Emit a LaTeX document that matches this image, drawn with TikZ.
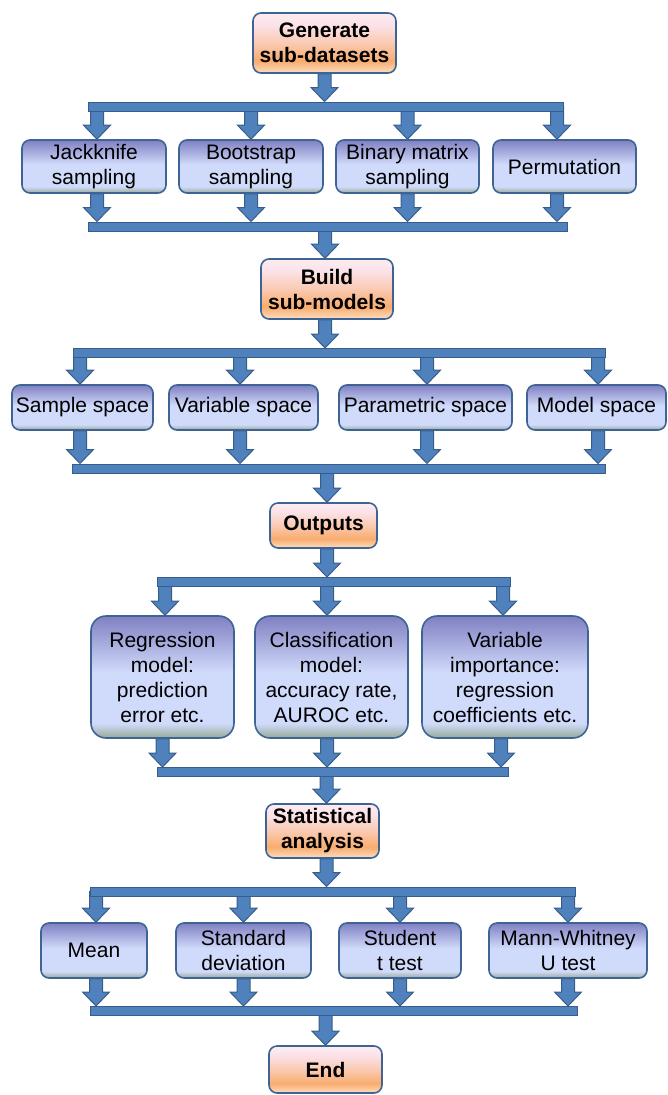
\documentclass[tikz,border=0pt]{standalone}
\usepackage{fontspec}
\setmainfont{Liberation Sans}
\usetikzlibrary{calc}
\pgfdeclarelayer{bg}
\pgfsetlayers{bg,main}
\definecolor{bbot}{RGB}{150,170,152}
\definecolor{bmid}{RGB}{208,218,250}
\definecolor{btop}{RGB}{128,128,194}
\definecolor{obot}{RGB}{252,222,195}
\definecolor{omid}{RGB}{248,172,110}
\definecolor{olt}{RGB}{250,202,178}
\definecolor{opk}{RGB}{251,226,232}
\definecolor{otop}{RGB}{252,236,240}
\definecolor{boxline}{RGB}{62,100,150}
\definecolor{arrfill}{RGB}{79,129,189}
\definecolor{arrline}{RGB}{56,93,138}
\pgfdeclareverticalshading{blueshade}{100bp}{color(0bp)=(bbot); color(25bp)=(bbot); color(31bp)=(bmid); color(52bp)=(bmid); color(75bp)=(btop); color(100bp)=(btop)}
\pgfdeclareverticalshading{orangeshade}{100bp}{color(0bp)=(obot); color(25bp)=(obot); color(35bp)=(omid); color(50bp)=(olt); color(65bp)=(opk); color(75bp)=(otop); color(100bp)=(otop)}
\newcommand\barrow[2]{%
  \path[arr] let \p1=(#1), \p2=(#2) in
    (\x1-6.5pt,\y1) -- (\x1-6.5pt,\y2+14pt) -- (\x1-13.5pt,\y2+14pt) -- (\x1,\y2)
    -- (\x1+13.5pt,\y2+14pt) -- (\x1+6.5pt,\y2+14pt) -- (\x1+6.5pt,\y1) -- cycle;}
\begin{document}
\begin{tikzpicture}[x=1pt,y=-1pt,
  box/.style={draw=boxline, line width=1.6pt, rounded corners=8pt, shading=blueshade,
    align=center, inner sep=0pt, font=\fontsize{21}{25}\selectfont},
  bigbox/.style={box, rounded corners=15pt},
  obox/.style={box, shading=orangeshade, font=\fontsize{21}{25}\selectfont\bfseries},
  bar/.style={draw=arrline, fill=arrfill, line width=1pt, inner sep=0pt, minimum height=9pt},
  arr/.style={draw=arrline, fill=arrfill, line width=1pt, line join=miter}]
\useasboundingbox (0,0) rectangle (668,1095);
% ---- section 1
\node[obox, minimum width=143pt, minimum height=60pt] (gen) at (324.5,43) {Generate\\sub-datasets};
\node[bar, minimum width=475pt] (b1) at (325.5,106.5) {};
\node[box, minimum width=144pt, minimum height=53pt] (jack) at (94,166.5) {Jackknife\\sampling};
\node[box, minimum width=144pt, minimum height=53pt] (boot) at (251,166.5) {Bootstrap\\sampling};
\node[box, minimum width=143pt, minimum height=53pt] (bin) at (407.5,166.5) {Binary matrix\\sampling};
\node[box, minimum width=143pt, minimum height=53pt] (perm) at (564.5,166.5) {Permutation};
\node[bar, minimum width=479pt] (b2) at (327.5,226.5) {};
% ---- section 2
\node[obox, minimum width=132pt, minimum height=60pt] (build) at (327,289) {Build\\sub-models};
\node[bar, minimum width=532pt] (b3) at (339,353) {};
\node[box, minimum width=141pt, minimum height=45pt] (samp) at (82.5,407.5) {Sample space};
\node[box, minimum width=149pt, minimum height=45pt] (vars) at (243.5,407.5) {Variable space};
\node[box, minimum width=173pt, minimum height=45pt] (para) at (425.5,407.5) {Parametric space};
\node[box, minimum width=139pt, minimum height=45pt] (mods) at (596.5,407.5) {Model space};
\node[bar, minimum width=533pt] (b4) at (338.5,468.5) {};
% ---- section 3
\node[obox, minimum width=107pt, minimum height=45pt] (out) at (323.5,525.5) {Outputs};
\node[bar, minimum width=353pt] (b5) at (333.5,582) {};
\node[bigbox, minimum width=143pt, minimum height=122pt] (reg) at (162.5,677) {Regression\\model:\\prediction\\error etc.};
\node[bigbox, minimum width=153pt, minimum height=122pt] (cls) at (331.5,677) {Classification\\model:\\accuracy rate,\\AUROC etc.};
\node[bigbox, minimum width=166pt, minimum height=122pt] (vimp) at (505,677) {Variable\\importance:\\regression\\coefficients etc.};
\node[bar, minimum width=351pt] (b6) at (332.5,772) {};
% ---- section 4
\node[obox, minimum width=113pt, minimum height=54pt] (stat) at (322.5,831) {Statistical\\analysis};
\node[bar, minimum width=485pt] (b7) at (332.5,891.5) {};
\node[box, minimum width=106pt, minimum height=55pt] (mean) at (94,950.5) {Mean};
\node[box, minimum width=135pt, minimum height=55pt] (std) at (243.5,950.5) {Standard\\deviation};
\node[box, minimum width=122pt, minimum height=55pt] (stud) at (400,950.5) {Student\\t test};
\node[box, minimum width=158pt, minimum height=55pt] (mann) at (568,950.5) {Mann-Whitney\\U test};
\node[bar, minimum width=487pt] (b8) at (333.5,1011) {};
\node[obox, minimum width=113pt, minimum height=47pt] (end) at (325.5,1069.5) {End};
% ---- arrows
\begin{pgfonlayer}{bg}
\barrow{gen.south}{b1.north}
\barrow{$(jack.north|-b1.center)+(3,0)$}{jack.north}
\barrow{boot.north|-b1.center}{boot.north}
\barrow{bin.north|-b1.center}{bin.north}
\barrow{$(perm.north|-b1.center)+(-7.5,0)$}{perm.north}
\barrow{$(jack.south)+(3,0)$}{b2.north}
\barrow{boot.south}{b2.north}
\barrow{bin.south}{b2.north}
\barrow{$(perm.south)+(-7.5,0)$}{b2.north}
\barrow{$(build.north|-b2.center)+(-2,0)$}{build.north}
\barrow{$(build.south)+(-2,0)$}{b3.north}
\barrow{$(samp.north|-b3.center)+(-2.5,0)$}{samp.north}
\barrow{$(vars.north|-b3.center)+(-3.5,0)$}{vars.north}
\barrow{$(para.north|-b3.center)+(1.5,0)$}{para.north}
\barrow{$(mods.north|-b3.center)+(1.5,0)$}{mods.north}
\barrow{$(samp.south)+(-2.5,0)$}{b4.north}
\barrow{$(vars.south)+(-3.5,0)$}{b4.north}
\barrow{$(para.south)+(1.5,0)$}{b4.north}
\barrow{$(mods.south)+(1.5,0)$}{b4.north}
\barrow{$(out.north|-b4.center)+(3.5,0)$}{out.north}
\barrow{$(out.south)+(3.5,0)$}{b5.north}
\barrow{$(reg.north|-b5.center)+(2.5,0)$}{reg.north}
\barrow{$(cls.north|-b5.center)+(-4.5,0)$}{cls.north}
\barrow{$(vimp.north|-b5.center)+(-2,0)$}{vimp.north}
\barrow{reg.south}{b6.north}
\barrow{$(cls.south)+(-4.5,0)$}{b6.north}
\barrow{$(vimp.south)+(-4,0)$}{b6.north}
\barrow{$(stat.north|-b6.center)+(4,0)$}{stat.north}
\barrow{$(stat.south)+(4,0)$}{b7.north}
\barrow{$(mean.north|-b7.center)+(2,0)$}{mean.north}
\barrow{std.north|-b7.center}{std.north}
\barrow{stud.north|-b7.center}{stud.north}
\barrow{mann.north|-b7.center}{mann.north}
\barrow{$(mean.south)+(2,0)$}{b8.north}
\barrow{std.south}{b8.north}
\barrow{stud.south}{b8.north}
\barrow{mann.south}{b8.north}
\barrow{end.north|-b8.center}{end.north}
\end{pgfonlayer}
\end{tikzpicture}
\end{document}
